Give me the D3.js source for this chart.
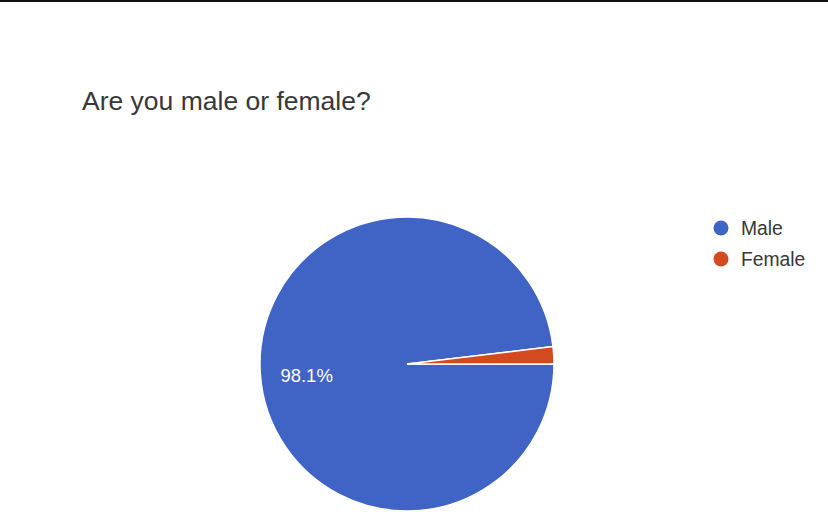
<!DOCTYPE html>
<html><head><meta charset="utf-8">
<script src="https://cdn.jsdelivr.net/npm/d3@7"></script>
<style>body{margin:0;background:#fff;}svg{display:block;}</style>
</head><body>
<svg id="c" width="828" height="532"></svg>
<script>
const categories = ["Male", "Female"];
const values = [98.1, 1.9];
const colors = ["#4064c6", "#d44a20"];
const title = "Are you male or female?";
const FONT = "'Liberation Sans', Arial, Helvetica, sans-serif";

const svg = d3.select("#c");
svg.append("rect").attr("x",0).attr("y",0).attr("width",828).attr("height",2).attr("fill","#111");
svg.append("text").attr("x",82).attr("y",110).attr("font-family",FONT)
  .attr("font-size",26.5).attr("fill","#383838").text(title);

const cx = 407, cy = 364, r = 147;
const pie = d3.pie().sort(null).startAngle(Math.PI/2).endAngle(Math.PI/2 + 2*Math.PI);
const arcs = pie(values);
const arc = d3.arc().innerRadius(0).outerRadius(r);
const g = svg.append("g").attr("transform",`translate(${cx},${cy})`);
g.selectAll("path").data(arcs).join("path").attr("d",arc)
  .attr("fill",(d,i)=>colors[i]).attr("stroke","#fff").attr("stroke-width",1.5);
const labelArc = d3.arc().innerRadius(r*0.684).outerRadius(r*0.684);
g.selectAll("text").data(arcs.filter(d=>d.data>5)).join("text")
  .attr("transform",d=>`translate(${labelArc.centroid(d)})`)
  .attr("text-anchor","middle").attr("dy","0.65em")
  .attr("font-family",FONT).attr("font-size",18.5).attr("fill","#fff")
  .text(d=>d.data.toFixed(1)+"%");

const lg = svg.append("g").attr("transform","translate(721,228)");
categories.forEach((c,i)=>{
  const row = lg.append("g").attr("transform",`translate(0,${i*31})`);
  row.append("circle").attr("r",7.5).attr("fill",colors[i]);
  row.append("text").attr("x",20).attr("dy","0.36em").attr("font-family",FONT)
    .attr("font-size",19.3).attr("fill","#383838").text(c);
});
</script>
</body></html>
